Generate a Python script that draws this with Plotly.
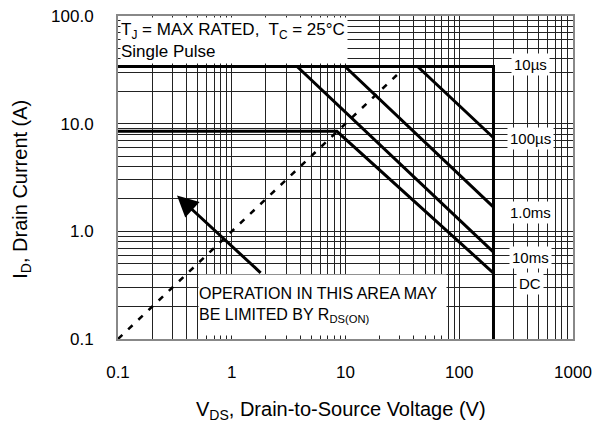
import numpy as np
import plotly.graph_objects as go

# ---- data ----
v_10us = [0.1, 200, 200]
i_10us = [34, 34, 0.1]
v_100us = [0.1, 43, 200]
i_100us = [34, 34, 7.4]
v_1ms = [0.1, 9.9, 200]
i_1ms = [34, 34, 1.68]
v_10ms = [0.1, 3.75, 200]
i_10ms = [34, 34, 0.64]
v_dc = [0.1, 8.4, 200]
i_dc = [8.5, 8.5, 0.41]
rds_v = [0.1, 30]
rds_i = [0.1, 30]

curve_labels = ["10µs", "100µs", "1.0ms", "10ms", "DC"]
label_v = [420, 420, 420, 420, 420]
label_i = [35.5, 7.3, 1.49, 0.57, 0.33]

arrow_tail_v, arrow_tail_i = 1.85, 0.40
arrow_head_v, arrow_head_i = 0.33, 2.15

x_major = [0.1, 1, 10, 100, 1000]
x_ticktext = ["0.1", "1", "10", "100", "1000"]
y_major = [0.1, 1, 10, 100]
y_ticktext = ["0.1", "1.0", "10.0", "100.0"]

FONT = "Liberation Sans, Arial, sans-serif"

def grid_vals(lo_exp, hi_exp):
    vals = []
    for e in range(lo_exp, hi_exp):
        for m in range(1, 10):
            vals.append(round(m * 10.0 ** e, 10))
    vals.append(10.0 ** hi_exp)
    return vals

xv = grid_vals(-1, 3)
yv = grid_vals(-1, 2)
minor_x = [v for v in xv if v not in x_major]
minor_y = [v for v in yv if v not in y_major]

fig = go.Figure()
line_style = dict(color="black", width=3)
for vv, ii in [(v_10us, i_10us), (v_100us, i_100us), (v_1ms, i_1ms),
               (v_10ms, i_10ms), (v_dc, i_dc)]:
    fig.add_trace(go.Scatter(x=vv, y=ii, mode="lines", line=line_style,
                             showlegend=False, hoverinfo="skip"))
fig.add_trace(go.Scatter(x=rds_v, y=rds_i, mode="lines",
                         line=dict(color="black", width=2.5, dash="6px,8px"),
                         showlegend=False, hoverinfo="skip"))

ann = []
# top-left condition box
ann.append(dict(xref="paper", yref="paper", x=0.004, y=0.996, xanchor="left",
                yanchor="top", showarrow=False, align="left", valign="middle",
                width=226, height=45, bgcolor="white", borderpad=0,
                text="T<sub>J</sub> = MAX RATED,  T<sub>C</sub> = 25°C<br>Single Pulse",
                font=dict(family=FONT, size=17, color="black")))
# R_DS(on) note box
ann.append(dict(xref="paper", yref="paper", x=0.176, y=0.008, xanchor="left",
                yanchor="bottom", showarrow=False, align="left", valign="middle",
                width=247, height=60, bgcolor="white", borderpad=0,
                text="OPERATION IN THIS AREA MAY<br>BE LIMITED BY R<sub>DS(ON)</sub>",
                font=dict(family=FONT, size=16, color="black")))
for t, lv, li in zip(curve_labels, label_v, label_i):
    ann.append(dict(x=np.log10(lv), y=np.log10(li), xref="x", yref="y",
                    text=t, showarrow=False, bgcolor="white", borderpad=2,
                    font=dict(family=FONT, size=15, color="black")))
ann.append(dict(x=np.log10(arrow_head_v), y=np.log10(arrow_head_i),
                ax=np.log10(arrow_tail_v), ay=np.log10(arrow_tail_i),
                xref="x", yref="y", axref="x", ayref="y", text="",
                showarrow=True, arrowhead=2, arrowsize=1.4, arrowwidth=3,
                arrowcolor="black"))
ann.append(dict(xref="paper", yref="paper", x=0.49, y=0, yshift=-71,
                xanchor="center", yanchor="middle", showarrow=False,
                text="V<sub>DS</sub>, Drain-to-Source Voltage (V)",
                font=dict(family=FONT, size=20, color="black")))
ann.append(dict(xref="paper", yref="paper", x=0, xshift=-96, y=0.462,
                xanchor="center", yanchor="middle", showarrow=False,
                textangle=-90, text="I<sub>D</sub>, Drain Current (A)",
                font=dict(family=FONT, size=20, color="black")))

grid_col = "#222"
fig.update_layout(
    width=593, height=428,
    margin=dict(l=118, r=20, t=16, b=89, autoexpand=False),
    paper_bgcolor="white", plot_bgcolor="white",
    annotations=ann,
    xaxis=dict(type="log", range=[-1, 3], tickvals=x_major, ticktext=x_ticktext,
               tickangle=0, showgrid=True, gridcolor=grid_col, gridwidth=1,
               minor=dict(tickvals=minor_x, showgrid=True, gridcolor=grid_col,
                          gridwidth=1, ticks=""),
               showline=True, linecolor="#888", linewidth=2, mirror=True,
               ticks="", ticklabelstandoff=17, automargin=False,
               ticklabeloverflow="allow",
               tickfont=dict(family=FONT, size=17, color="black"),
               zeroline=False),
    yaxis=dict(type="log", range=[-1, 2], tickvals=y_major, ticktext=y_ticktext,
               showgrid=True, gridcolor=grid_col, gridwidth=1,
               minor=dict(tickvals=minor_y, showgrid=True, gridcolor=grid_col,
                          gridwidth=1, ticks=""),
               showline=True, linecolor="#888", linewidth=2, mirror=True,
               ticks="", ticklabelstandoff=19, automargin=False,
               ticklabeloverflow="allow",
               tickfont=dict(family=FONT, size=17, color="black"),
               zeroline=False),
)

fig.write_html("out.html", config={"displayModeBar": False},
               post_script="document.body.style.margin='0';document.body.style.overflow='hidden';")
